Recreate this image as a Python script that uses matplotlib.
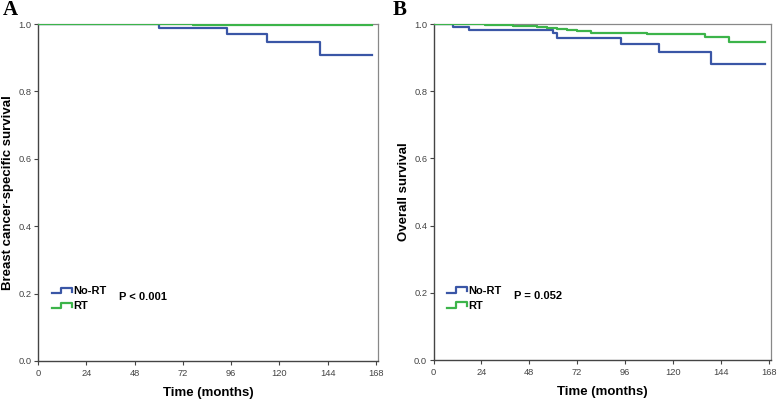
import matplotlib
matplotlib.use("Agg")
import matplotlib.pyplot as plt
from matplotlib.legend_handler import HandlerBase
from matplotlib.lines import Line2D

# ---- data ----
xticks = [0, 24, 48, 72, 96, 120, 144, 168]
yticks = [0.0, 0.2, 0.4, 0.6, 0.8, 1.0]

a_nort_t = [0, 60, 94, 114, 140, 166]
a_nort_s = [1.0, 0.987, 0.971, 0.947, 0.909, 0.909]
a_rt_t = [0, 77, 166]
a_rt_s = [1.0, 0.997, 0.997]

b_nort_t = [0, 10, 18, 60, 62, 94, 113, 139, 166]
b_nort_s = [1.0, 0.992, 0.982, 0.972, 0.957, 0.940, 0.918, 0.881, 0.881]
b_rt_t = [0, 26, 34, 40, 46, 52, 57, 62, 67, 72, 79, 107, 136, 148, 166]
b_rt_s = [1.0, 0.998, 0.996, 0.994, 0.993, 0.991, 0.988, 0.985, 0.982, 0.978, 0.974, 0.970, 0.962, 0.945, 0.945]

blue = "#3a56a6"
green = "#3cb44a"


class StepHandler(HandlerBase):
    def create_artists(self, legend, orig_handle, xdescent, ydescent, width, height, fontsize, trans):
        w, h = width, height
        xs = [0, 0.45 * w, 0.45 * w, w, w]
        ys = [0.15 * h, 0.15 * h, 0.85 * h, 0.85 * h, 0.3 * h]
        ln = Line2D(xs, ys, color=orig_handle.get_color(), lw=1.6, transform=trans)
        return [ln]


fig = plt.figure(figsize=(7.78, 4.0), dpi=100)
plt.rcParams['font.family'] = ['Liberation Sans', 'DejaVu Sans']

panels = [
    dict(rect=[38 / 778, 39 / 400, 340 / 778, 337 / 400], letter="A", lx=-0.103,
         ylabel="Breast cancer-specific survival", p="P < 0.001",
         n=(a_nort_t, a_nort_s), r=(a_rt_t, a_rt_s)),
    dict(rect=[433.5 / 778, 40 / 400, 337 / 778, 336 / 400], letter="B", lx=-0.122,
         ylabel="Overall survival", p="P = 0.052",
         n=(b_nort_t, b_nort_s), r=(b_rt_t, b_rt_s)),
]

for pd_ in panels:
    ax = fig.add_axes(pd_['rect'])
    ax.step(pd_['n'][0], pd_['n'][1], where='post', color=blue, lw=1.6, zorder=3)
    ax.step(pd_['r'][0], pd_['r'][1], where='post', color=green, lw=1.6, zorder=4)
    h_n = Line2D([], [], color=blue)
    h_r = Line2D([], [], color=green)
    ax.set_xlim(0, 169.0)
    ax.set_ylim(0, 1.0)
    ax.set_xticks(xticks)
    ax.set_xticklabels([str(t) for t in xticks])
    ax.set_yticks(yticks)
    ax.set_yticklabels([f"{v:.1f}" for v in yticks])
    ax.tick_params(axis='both', labelsize=6.7, length=3, width=0.8, colors="#444444")
    ax.tick_params(axis='x', pad=2.5)
    ax.tick_params(axis='y', pad=1.5)
    for s in ['left', 'bottom']:
        ax.spines[s].set_color("#444444")
        ax.spines[s].set_linewidth(1.0)
    for s in ['top', 'right']:
        ax.spines[s].set_color("#888888")
        ax.spines[s].set_linewidth(0.9)
    ax.set_xlabel("Time (months)", fontsize=9.5, fontweight='bold', labelpad=7)
    ax.set_ylabel(pd_['ylabel'], fontsize=9.5, fontweight='bold', labelpad=3)
    ax.legend([h_n, h_r], ["No-RT", "RT"], handler_map={Line2D: StepHandler()},
              loc='center left', bbox_to_anchor=(0.041, 0.184), frameon=False,
              prop={'weight': 'bold', 'size': 8}, handlelength=1.8,
              handletextpad=0.1, labelspacing=0.45, borderpad=0, borderaxespad=0)
    ax.text(40.5, 0.19, pd_['p'], fontsize=8, fontweight='bold', va='center', ha='left')
    ax.text(pd_['lx'], 1.012, pd_['letter'], transform=ax.transAxes,
            fontsize=15, fontweight='bold', family='Liberation Serif', va='bottom', ha='left')

fig.savefig("out.png", dpi=100)
